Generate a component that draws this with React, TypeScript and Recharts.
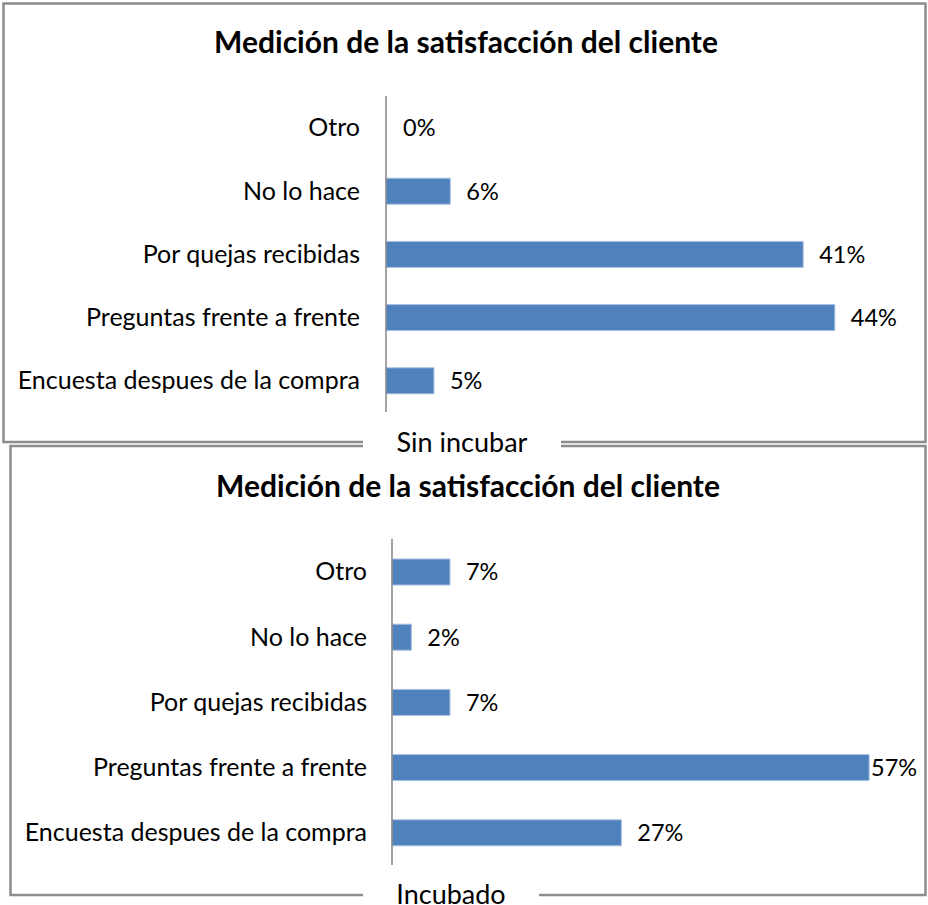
import { BarChart, Bar, XAxis, YAxis, LabelList, Cell } from 'recharts';

// categories listed top to bottom, as they appear in the picture
const categories = [
  'Otro',
  'No lo hace',
  'Por quejas recibidas',
  'Preguntas frente a frente',
  'Encuesta despues de la compra',
];
// bar lengths, labels show them rounded
const sinIncubar = [0, 0.063, 0.409, 0.44, 0.047];
const incubado = [0.069, 0.023, 0.069, 0.568, 0.273];

const title = 'Medición de la satisfacción del cliente';
const font = 'Lato, "Noto Sans", sans-serif';

const toRows = (values: number[]) => categories.map((name, i) => ({ name, value: values[i] }));

const pct = (v: number) => `${Math.round(v * 100)}%`;

const ValueLabel = (props: any) => {
  const { x, y, width, height, value } = props;
  const end = x + width;
  // excel pulls the label in when it would run off the chart
  const gap = end + 16 + 46 > 920 ? 2 : 16;
  return (
    <text x={end + gap} y={y + height / 2} dy="0.36em" fontSize={23.5} fontFamily={font} fill="#000">
      {pct(value)}
    </text>
  );
};

type PanelProps = {
  values: number[];
  top: number;
  height: number;
  axisX: number;
  plotTop: number;
  plotBottom: number;
  maxX: number;
  labelGap: number;
};

const Panel = ({ values, top, height, axisX, plotTop, plotBottom, maxX, labelGap }: PanelProps) => (
  <div style={{ position: 'absolute', left: 0, top }}>
    <BarChart
      width={928}
      height={height}
      layout="vertical"
      data={toRows(values)}
      margin={{ top: plotTop, bottom: height - plotBottom, left: 0, right: 32 }}
      barSize={26}
    >
      <XAxis type="number" domain={[0, maxX]} hide />
      <YAxis
        type="category"
        dataKey="name"
        width={axisX}
        tickLine={false}
        tickSize={0}
        tickMargin={labelGap}
        axisLine={{ stroke: '#868686', strokeWidth: 1.5 }}
        tick={{ fontSize: 25, fontFamily: font, fill: '#000' }}
        interval={0}
      />
      <Bar dataKey="value" fill="#4f81bd" stroke="#a7bfe0" strokeWidth={1} minPointSize={1} isAnimationActive={false}>
        {values.map((v, i) => (
          <Cell key={i} fill={v === 0 ? 'none' : '#4f81bd'} stroke={v === 0 ? 'none' : '#a7bfe0'} />
        ))}
        <LabelList dataKey="value" content={ValueLabel} />
      </Bar>
    </BarChart>
  </div>
);

const App = () => {
  return (
    <div style={{ position: 'absolute', left: 0, top: 0, width: 928, height: 905, background: '#fff', overflow: 'hidden' }}>
      <Panel values={sinIncubar} top={0} height={445} axisX={386} plotTop={96} plotBottom={412} maxX={0.5} labelGap={26} />
      <Panel values={incubado} top={446} height={459} axisX={392} plotTop={93} plotBottom={419} maxX={0.6} labelGap={25} />
      <svg width={928} height={905} style={{ position: 'absolute', left: 0, top: 0, pointerEvents: 'none' }}>
        <g fill="none" stroke="#8c8c8c" strokeWidth={2.5}>
          <rect x={3.5} y={3.5} width={922} height={438.5} />
          <rect x={10.5} y={446} width={915} height={449} />
        </g>
        <rect x={363} y={438} width={198} height={10} fill="#fff" />
        <rect x={363} y={890} width={176} height={10} fill="#fff" />
        <g fontFamily={font} fill="#000" textAnchor="middle">
          <text x={466} y={53} fontSize={30} fontWeight="bold">{title}</text>
          <text x={468} y={497} fontSize={30} fontWeight="bold">{title}</text>
          <text x={462} y={452} fontSize={27}>Sin incubar</text>
          <text x={451} y={904} fontSize={27}>Incubado</text>
        </g>
      </svg>
    </div>
  );
};

export default App;
